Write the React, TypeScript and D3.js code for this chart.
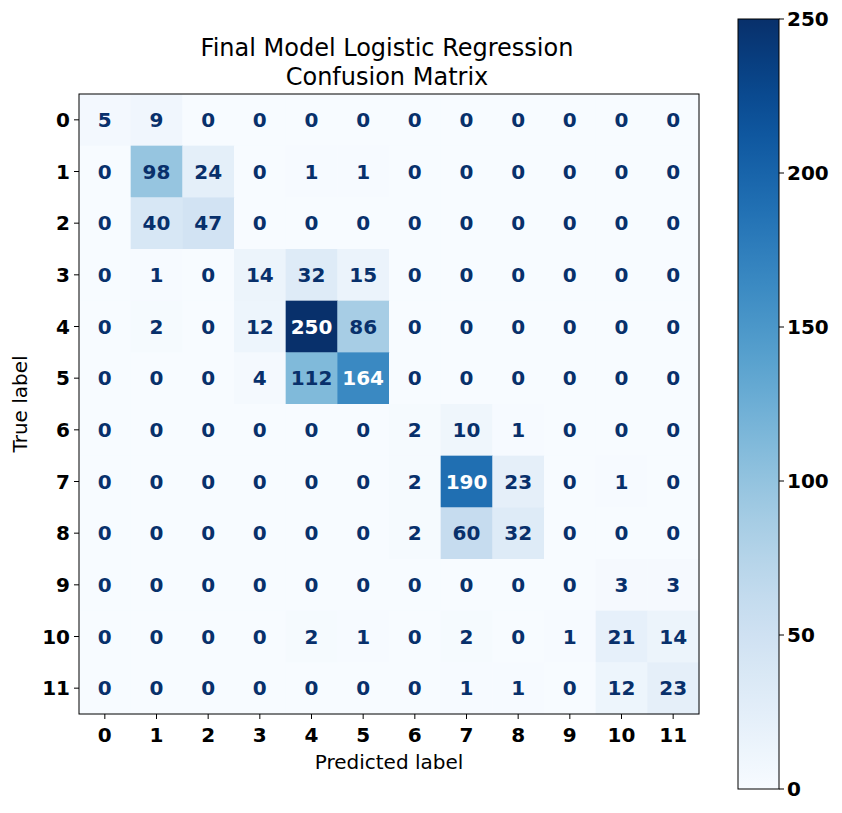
import React from 'react';
import * as d3 from 'd3';

const labels = ['0', '1', '2', '3', '4', '5', '6', '7', '8', '9', '10', '11'];
const matrix: number[][] = [
  [5, 9, 0, 0, 0, 0, 0, 0, 0, 0, 0, 0],
  [0, 98, 24, 0, 1, 1, 0, 0, 0, 0, 0, 0],
  [0, 40, 47, 0, 0, 0, 0, 0, 0, 0, 0, 0],
  [0, 1, 0, 14, 32, 15, 0, 0, 0, 0, 0, 0],
  [0, 2, 0, 12, 250, 86, 0, 0, 0, 0, 0, 0],
  [0, 0, 0, 4, 112, 164, 0, 0, 0, 0, 0, 0],
  [0, 0, 0, 0, 0, 0, 2, 10, 1, 0, 0, 0],
  [0, 0, 0, 0, 0, 0, 2, 190, 23, 0, 1, 0],
  [0, 0, 0, 0, 0, 0, 2, 60, 32, 0, 0, 0],
  [0, 0, 0, 0, 0, 0, 0, 0, 0, 0, 3, 3],
  [0, 0, 0, 0, 2, 1, 0, 2, 0, 1, 21, 14],
  [0, 0, 0, 0, 0, 0, 0, 1, 1, 0, 12, 23],
];
const cbTicks = [0, 50, 100, 150, 200, 250];

const font = '"DejaVu Sans", sans-serif';

export default function App() {
  const left = 79, top = 94, size = 620;
  const x = d3.scaleBand<string>().domain(labels).range([left, left + size]);
  const y = d3.scaleBand<string>().domain(labels).range([top, top + size]);
  const color = d3.scaleSequential(d3.interpolateBlues).domain([0, 250]);
  const cbX = 738, cbW = 41, cbTop = 19, cbBot = 789;
  const cy = d3.scaleLinear().domain([0, 250]).range([cbBot, cbTop]);
  const stops = d3.range(0, 1.0001, 0.05);

  return (
    <svg width={842} height={813} style={{ position: 'absolute', left: 0, top: 0, display: 'block', fontFamily: font, background: '#fff' }}>
      <defs>
        <linearGradient id="cb" x1="0" y1="1" x2="0" y2="0">
          {stops.map((s) => (
            <stop key={s} offset={s} stopColor={d3.interpolateBlues(s)} />
          ))}
        </linearGradient>
      </defs>
      <text x={left + size / 2 - 2} y={56} textAnchor="middle" fontSize={24}>Final Model Logistic Regression</text>
      <text x={left + size / 2 - 2} y={85} textAnchor="middle" fontSize={24}>Confusion Matrix</text>
      {matrix.map((row, i) =>
        row.map((v, j) => (
          <g key={`${i}-${j}`}>
            <rect x={x(labels[j])} y={y(labels[i])} width={x.bandwidth() + 0.5} height={y.bandwidth() + 0.5} fill={color(v)} />
            <text
              x={x(labels[j])! + x.bandwidth() / 2}
              y={y(labels[i])! + y.bandwidth() / 2}
              dy="0.36em"
              textAnchor="middle"
              fontSize={20}
              fontWeight="bold"
              fill={v > 125 ? '#ffffff' : '#08306b'}
            >
              {v}
            </text>
          </g>
        ))
      )}
      <rect x={left} y={top} width={size} height={size} fill="none" stroke="#000" strokeWidth={1} />
      {labels.map((l) => (
        <g key={'x' + l}>
          <line x1={x(l)! + x.bandwidth() / 2} x2={x(l)! + x.bandwidth() / 2} y1={top + size} y2={top + size + 5} stroke="#000" />
          <text x={x(l)! + x.bandwidth() / 2} y={top + size + 28} textAnchor="middle" fontSize={20} fontWeight="bold">{l}</text>
          <line x1={left - 5} x2={left} y1={y(l)! + y.bandwidth() / 2} y2={y(l)! + y.bandwidth() / 2} stroke="#000" />
          <text x={left - 9} y={y(l)! + y.bandwidth() / 2} dy="0.36em" textAnchor="end" fontSize={20} fontWeight="bold">{l}</text>
        </g>
      ))}
      <text x={left + size / 2} y={769} textAnchor="middle" fontSize={20}>Predicted label</text>
      <text transform={`translate(27,${top + size / 2}) rotate(-90)`} textAnchor="middle" fontSize={20}>True label</text>
      <rect x={cbX} y={cbTop} width={cbW} height={cbBot - cbTop} fill="url(#cb)" stroke="#000" strokeWidth={1} />
      {cbTicks.map((t) => (
        <g key={'c' + t}>
          <line x1={cbX + cbW} x2={cbX + cbW + 5} y1={cy(t)} y2={cy(t)} stroke="#000" />
          <text x={cbX + cbW + 8} y={cy(t)} dy="0.36em" fontSize={20} fontWeight="bold">{t}</text>
        </g>
      ))}
    </svg>
  );
}
